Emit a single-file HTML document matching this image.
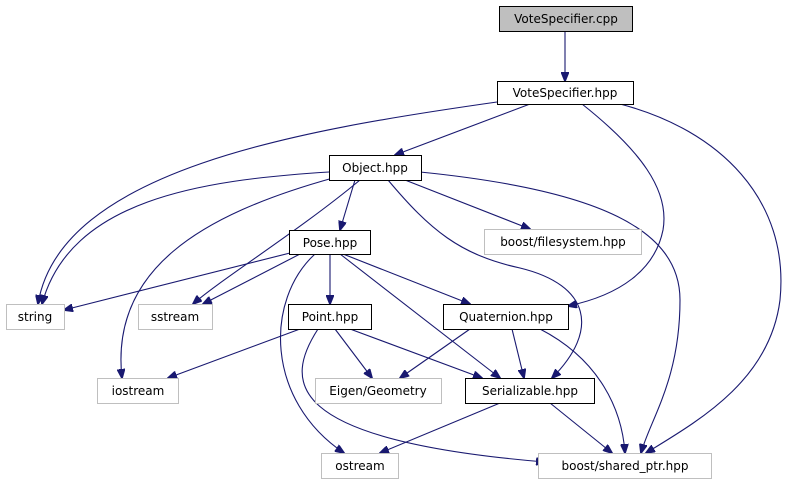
<!DOCTYPE html>
<html><head><meta charset="utf-8"><style>
html,body{margin:0;padding:0;background:#fff;}
svg{display:block;}
text{font-family:"DejaVu Sans","Liberation Sans",sans-serif;font-size:12px;fill:#000;}
.n{fill:#fff;stroke:#000;stroke-width:1;}
.g{fill:#fff;stroke:#bfbfbf;stroke-width:1;}
.e{fill:none;stroke:#191970;stroke-width:1.1;}
</style></head><body>
<svg width="788" height="485" viewBox="0 0 788 485">
<defs><marker id="a" markerWidth="10" markerHeight="8" refX="9" refY="4" orient="auto" markerUnits="userSpaceOnUse"><path d="M0,0 L10,4 L0,8 z" fill="#191970" stroke="#191970"/></marker></defs>
<g class="e" marker-end="url(#a)">
<path d="M565,31 L565,81"/>
<path d="M530,104 L395,155"/>
<path d="M497,102 C300,130 60,170 38,304"/>
<path d="M582,104 C640,150 670,190 663,230 C655,270 620,295 568,306"/>
<path d="M620,104 C720,130 790,200 780,300 C770,380 700,420 646,453"/>
<path d="M329,172 C200,180 70,200 42,304"/>
<path d="M333,178 C200,215 110,270 122,378"/>
<path d="M360,180 C300,230 220,280 193,304"/>
<path d="M355,180 L340,230"/>
<path d="M405,180 L530,229"/>
<path d="M388,180 C430,230 460,255 520,268 C590,285 600,330 552,378"/>
<path d="M420,172 C600,190 680,230 680,300 C680,380 650,420 641,453"/>
<path d="M290,253 L64,310"/>
<path d="M300,254 L203,304"/>
<path d="M330,254 L330,304"/>
<path d="M343,254 L470,304"/>
<path d="M340,254 L500,378"/>
<path d="M315,254 C265,300 265,400 344,453"/>
<path d="M300,329 L168,378"/>
<path d="M335,329 L372,378"/>
<path d="M350,329 L482,378"/>
<path d="M318,329 C285,380 280,440 545,462"/>
<path d="M470,329 L400,378"/>
<path d="M512,329 L524,378"/>
<path d="M540,329 C600,360 622,410 625,453"/>
<path d="M500,403 L380,453"/>
<path d="M550,403 L612,453"/>
</g>
<rect x="499.5" y="6.5" width="133" height="25" fill="#bfbfbf" stroke="#000"/>
<text x="566" y="23" text-anchor="middle">VoteSpecifier.cpp</text>
<rect class="n" x="497.5" y="81.5" width="136" height="23"/>
<text x="565" y="97" text-anchor="middle">VoteSpecifier.hpp</text>
<rect class="n" x="329.5" y="155.5" width="92" height="25"/>
<text x="375" y="172" text-anchor="middle">Object.hpp</text>
<rect class="g" x="484.5" y="229.5" width="157" height="25"/>
<text x="563" y="246" text-anchor="middle">boost/filesystem.hpp</text>
<rect class="n" x="289.5" y="230.5" width="81" height="24"/>
<text x="330" y="247" text-anchor="middle">Pose.hpp</text>
<rect class="g" x="6.5" y="304.5" width="58" height="25"/>
<text x="35" y="321" text-anchor="middle">string</text>
<rect class="g" x="138.5" y="304.5" width="74" height="25"/>
<text x="175" y="321" text-anchor="middle">sstream</text>
<rect class="n" x="288.5" y="304.5" width="83" height="25"/>
<text x="330" y="321" text-anchor="middle">Point.hpp</text>
<rect class="n" x="443.5" y="304.5" width="125" height="25"/>
<text x="506" y="321" text-anchor="middle">Quaternion.hpp</text>
<rect class="g" x="97.5" y="378.5" width="81" height="25"/>
<text x="138" y="395" text-anchor="middle">iostream</text>
<rect class="g" x="315.5" y="378.5" width="126" height="25"/>
<text x="378" y="395" text-anchor="middle">Eigen/Geometry</text>
<rect class="n" x="465.5" y="378.5" width="129" height="25"/>
<text x="530" y="395" text-anchor="middle">Serializable.hpp</text>
<rect class="g" x="321.5" y="453.5" width="77" height="25"/>
<text x="360" y="470" text-anchor="middle">ostream</text>
<rect class="g" x="538.5" y="453.5" width="173" height="25"/>
<text x="625" y="470" text-anchor="middle">boost/shared_ptr.hpp</text>
</svg>
</body></html>
